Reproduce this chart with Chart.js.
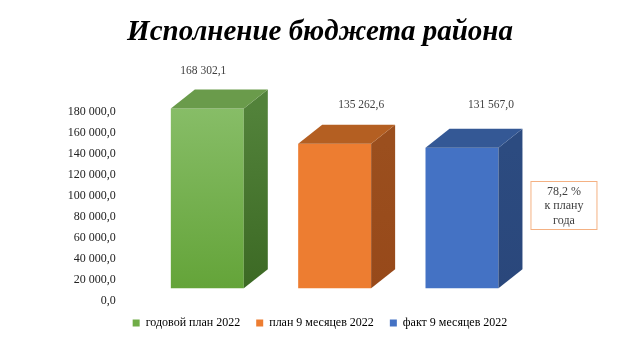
<!DOCTYPE html>
<html><head><meta charset="utf-8">
<script src="https://cdn.jsdelivr.net/npm/chart.js@4.4.1/dist/chart.umd.min.js"></script>
<style>html,body{margin:0;padding:0;background:#fff}</style>
</head><body>
<canvas id="c" width="640" height="360"></canvas>
<script>
const titleText = 'Исполнение бюджета района';
const categories = ['годовой план 2022', 'план 9 месяцев 2022', 'факт 9 месяцев 2022'];
const values = [168302.1, 135262.6, 131567.0];
const yTickValues = [0, 20000, 40000, 60000, 80000, 100000, 120000, 140000, 160000, 180000];
const noteLines = ['78,2 %', 'к плану', 'года'];

const legendColors = ['#70AD47', '#ED7D31', '#4472C4'];
const frontColors = [['#87BD67', '#64A439'], ['#ED7D31', '#ED7D31'], ['#4472C4', '#4472C4']];
const sideColors = [['#52823A', '#3C6924'], ['#9B4F1E', '#97491A'], ['#2C4B80', '#2A477B']];
const topColors = ['#6A9B4B', '#B45F22', '#345895'];
const labelOffsets = [[-4, -37], [26.5, -39], [29, -43]];
const DX = 24, DY = -19;
const FONT = 'Liberation Serif';

function fmt(v) {
  const s = Number(v).toFixed(1);
  let [i, d] = s.split('.');
  i = i.replace(/\B(?=(\d{3})+(?!\d))/g, ' ');
  return i + ',' + d;
}

function vGrad(ctx, y0, y1, c0, c1) {
  const g = ctx.createLinearGradient(0, y0, 0, y1);
  g.addColorStop(0, c0); g.addColorStop(1, c1);
  return g;
}

const threeD = {
  id: 'threeD',
  afterDatasetsDraw(chart) {
    const ctx = chart.ctx;
    const meta = chart.getDatasetMeta(0);
    ctx.save();
    meta.data.forEach((bar, i) => {
      const p = bar.getProps(['x', 'y', 'base', 'width'], true);
      const l = p.x - p.width / 2, r = p.x + p.width / 2, t = p.y, b = p.base;
      ctx.beginPath();
      ctx.moveTo(r, b); ctx.lineTo(r + DX, b + DY); ctx.lineTo(r + DX, t + DY); ctx.lineTo(r, t); ctx.closePath();
      ctx.fillStyle = vGrad(ctx, t, b, sideColors[i][0], sideColors[i][1]);
      ctx.fill();
      ctx.beginPath();
      ctx.moveTo(l, t); ctx.lineTo(l + DX, t + DY); ctx.lineTo(r + DX, t + DY); ctx.lineTo(r, t); ctx.closePath();
      ctx.fillStyle = topColors[i];
      ctx.fill();
      ctx.fillStyle = '#404040';
      ctx.font = '11.5px "' + FONT + '"';
      ctx.textAlign = 'center';
      ctx.textBaseline = 'middle';
      ctx.fillText(fmt(values[i]), p.x + labelOffsets[i][0], t + labelOffsets[i][1]);
    });
    const last = meta.data[meta.data.length - 1].getProps(['x', 'width'], true);
    const bx = last.x + last.width / 2 + 32.5, by = 181.5, bw = 66, bh = 48;
    ctx.strokeStyle = '#F4B183';
    ctx.lineWidth = 1;
    ctx.strokeRect(bx, by, bw, bh);
    ctx.fillStyle = '#404040';
    ctx.font = '12px "' + FONT + '"';
    ctx.textAlign = 'center';
    ctx.textBaseline = 'alphabetic';
    noteLines.forEach((s, k) => ctx.fillText(s, bx + bw / 2, by + 13 + k * 14.5));
    ctx.restore();
  }
};

new Chart(document.getElementById('c'), {
  type: 'bar',
  data: {
    labels: categories,
    datasets: [{
      data: values,
      yAxisID: 'y2',
      backgroundColor: (c) => {
        const chart = c.chart, s = chart.scales.y2;
        const i = c.dataIndex;
        if (!s || i === undefined) return legendColors[i] || '#888';
        const y0 = s.getPixelForValue(values[i]), y1 = s.getPixelForValue(0);
        if (!isFinite(y0) || !isFinite(y1)) return frontColors[i][0];
        return vGrad(chart.ctx, y0, y1, frontColors[i][0], frontColors[i][1]);
      },
      borderWidth: 0,
      categoryPercentage: 1,
      barPercentage: 0.573,
      clip: false
    }]
  },
  options: {
    responsive: false,
    animation: false,
    layout: { padding: { left: 0, right: 0, top: 0, bottom: 21 } },
    scales: {
      x: { display: false },
      y: {
        position: 'left',
        min: 0, max: 180000,
        afterBuildTicks: (s) => { s.ticks = yTickValues.map(v => ({ value: v })); },
        ticks: { padding: 28, color: '#222', font: { family: FONT, size: 12 }, callback: (v) => fmt(v) },
        grid: { display: false, drawTicks: false },
        border: { display: false },
        afterFit: (s) => { s.width = 143.65; }
      },
      y2: {
        position: 'right',
        min: -11940, max: 165100,
        ticks: { display: false },
        grid: { display: false, drawTicks: false },
        border: { display: false },
        afterFit: (s) => { s.width = 114.35; }
      }
    },
    plugins: {
      title: {
        display: true, text: titleText, color: '#000',
        font: { family: FONT, size: 29, weight: 'bold', style: 'italic', lineHeight: 1.2 },
        padding: { top: 15, bottom: 62 }
      },
      legend: {
        position: 'bottom',
        labels: {
          boxWidth: 7, boxHeight: 7, padding: 16, color: '#222',
          font: { family: FONT, size: 12 },
          generateLabels: () => categories.map((c, i) => ({
            text: c, fillStyle: legendColors[i], strokeStyle: legendColors[i], lineWidth: 0,
            hidden: false, index: i, datasetIndex: 0
          }))
        }
      },
      tooltip: { enabled: false }
    }
  },
  plugins: [threeD]
});
</script>
</body></html>
